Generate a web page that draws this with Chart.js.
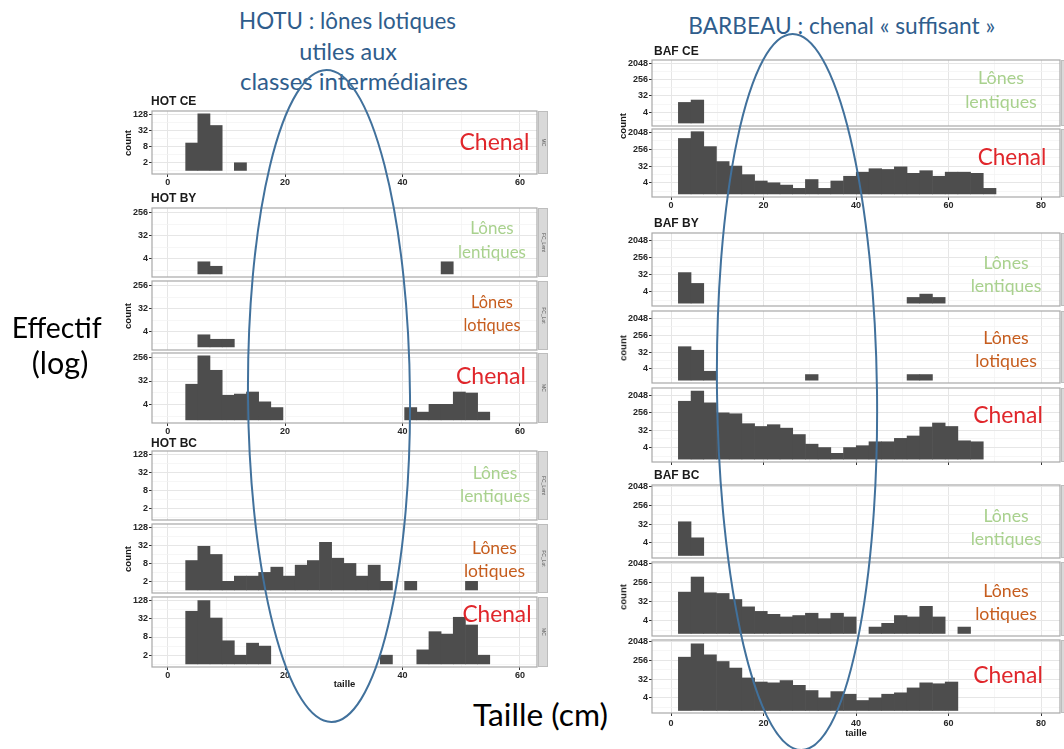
<!DOCTYPE html>
<html lang="fr">
<head>
<meta charset="utf-8">
<title>HOTU / BARBEAU - effectifs par classe de taille</title>
<script src="https://cdn.jsdelivr.net/npm/chart.js@4.4.1/dist/chart.umd.min.js"></script>
<style>
  html, body { margin: 0; padding: 0; background: #fff; }
  body { width: 1064px; height: 749px; position: relative; overflow: hidden; }
  .panel { position: absolute; }
  .txt { position: absolute; white-space: nowrap; text-align: center; }
  .gg { position: absolute; white-space: nowrap; font-family: "Liberation Sans", Arial, sans-serif; font-weight: bold; line-height: 1.2; color: #1a1a1a; }
  svg { position: absolute; left: 0; top: 0; pointer-events: none; }
</style>
</head>
<body>
<script>
const HOT_BINS = [4.10, 6.17, 8.25, 10.32, 12.39, 14.46, 16.53, 18.60, 20.68, 22.75, 24.82, 26.89, 28.96,
                  31.04, 33.11, 35.18, 37.25, 39.32, 41.40, 43.47, 45.54, 47.61, 49.68, 51.76, 53.83];
const BAF_BINS = [2.96, 5.71, 8.45, 11.20, 13.95, 16.70, 19.44, 22.19, 24.94, 27.68, 30.43, 33.18, 35.92,
                  38.67, 41.42, 44.17, 46.91, 49.66, 52.41, 55.15, 57.90, 60.65, 63.39, 66.14, 68.89];

const _ = null; // classe vide

// HOTU - effectifs par classe
const HOT_CE_MC   = [11, 137, 50, _, 2,   _, _, _, _, _,   _, _, _, _, _,   _, _, _, _, _,   _, _, _, _, _];
const HOT_BY_LENT = [_, 3, 2, _, _,       _, _, _, _, _,   _, _, _, _, _,   _, _, _, _, _,   _, 3, _, _, _];
const HOT_BY_LOT  = [_, 3, 2, 2, _,       _, _, _, _, _,   _, _, _, _, _,   _, _, _, _, _,   _, _, _, _, _];
const HOT_BY_MC   = [24, 300, 83, 9, 10,  12, 5, 3, _, _,  _, _, _, _, _,   _, _, _, 3, 2,   4, 4, 12, 11, 2];
const HOT_BC_LENT = [_, _, _, _, _,       _, _, _, _, _,   _, _, _, _, _,   _, _, _, _, _,   _, _, _, _, _];
const HOT_BC_LOT  = [10, 30, 16, 2, 3,    3, 4, 6, 3, 7,   10, 41, 12, 8, 3, 7, 2, _, 2, _,  _, _, _, 2, _];
const HOT_BC_MC   = [57, 128, 34, 6, 2,   5, 4, _, _, _,   _, _, _, _, _,   _, 2, _, _, 3,   12, 10, 36, 20, 2];

// BARBEAU - effectifs par classe
const BAF_CE_LENT = [14, 19, _, _, _,     _, _, _, _, _,   _, _, _, _, _,   _, _, _, _, _,   _, _, _, _, _];
const BAF_CE_MC   = [990, 2300, 360, 56, 32, 11, 5, 4, 3, 2, 6, 2, 5, 9, 15, 23, 21, 29, 13, 18, 9, 15, 15, 13, 2];
const BAF_BY_LENT = [41, 11, _, _, _,     _, _, _, _, _,   _, _, _, _, _,   _, _, _, 2, 3,   2, _, _, _, _];
const BAF_BY_LOT  = [62, 40, 3, _, _,     _, _, _, _, _,   2, _, _, _, _,   _, _, _, 2, 2,   _, _, _, _, _];
const BAF_BY_MC   = [1030, 3500, 850, 256, 230, 70, 50, 62, 41, 19, 6, 4, 2, 4, 5, 8, 8, 12, 16, 47, 76, 50, 9, 8, _];
const BAF_BC_LENT = [41, 7, _, _, _,      _, _, _, _, _,   _, _, _, _, _,   _, _, _, _, _,   _, _, _, _, _];
const BAF_BC_LOT  = [89, 460, 83, 77, 40, 18, 11, 8, 6, 7, 9, 5, 9, 6, _,   2, 3, 7, 6, 19,  6, _, 2, _, _];
const BAF_BC_MC   = [355, 1530, 460, 220, 107, 36, 23, 21, 27, 16, 9, 4, 8, 6, 3, 4, 6, 7, 12, 21, 19, 23, _, _, _];

// Graduations
const HOT_X_TICKS = [0, 10, 20, 30, 40, 50, 60];
const BAF_X_TICKS = [0, 10, 20, 30, 40, 50, 60, 70, 80];
const X_MAJOR = 20;
const Y_MAJ_A = [2, 8, 32, 128];
const Y_MIN_A = [1, 4, 16, 64];
const Y_MAJ_B = [4, 32, 256];
const Y_MIN_B = [1.41, 11.3, 90.5];
const Y_MAJ_C = [4, 32, 256, 2048];
const Y_MIN_C = [1.41, 11.3, 90.5, 724];

const GRID_MAJOR = '#E6E6E6';
const GRID_MINOR = '#F2F2F2';
const TICK_COL = '#333333';
const BAR_COL = '#4D4D4D';
const GG_FONT = '"Liberation Sans", Arial, sans-serif';
const SLIDE_FONT = 'Lato, "Open Sans", sans-serif';
const RED = '#E0262B';
const GREEN = '#A9D18E';
const ORANGE = '#C65D1E';
const BLUE = '#2F5D8C';

const PAD = 6;
const STRIP_W = 10;

const SPECIES = {
  HOT: { bins: HOT_BINS, xTicks: HOT_X_TICKS, xMin: -2.67, xMax: 62.91, plotLeft: 152, plotRight: 537, yW: 22, countX: 128.3 },
  BAF: { bins: BAF_BINS, xTicks: BAF_X_TICKS, xMin: -4.11, xMax: 84.1, plotLeft: 652, plotRight: 1060, yW: 26, countX: 622.5 },
};

const FACETS = [
  { title: 'HOT CE', sp: 'HOT', titleY: 101, countY: 142.5, yLo: -0.4, yHi: 7.45, majors: Y_MAJ_A, minors: Y_MIN_A,
    panels: [{ top: 111, bottom: 174, counts: HOT_CE_MC, strip: 'MC', x: 'labels' }] },
  { title: 'HOT BY', sp: 'HOT', titleY: 198.5, countY: 316, yLo: -0.4, yHi: 8.6, majors: Y_MAJ_B, minors: Y_MIN_B,
    panels: [
      { top: 208, bottom: 277, counts: HOT_BY_LENT, strip: 'FC_Lent' },
      { top: 281, bottom: 350, counts: HOT_BY_LOT, strip: 'FC_Lot' },
      { top: 353, bottom: 423, counts: HOT_BY_MC, strip: 'MC', x: 'labels' }] },
  { title: 'HOT BC', sp: 'HOT', titleY: 443, countY: 558.7, yLo: -0.3, yHi: 7.4, majors: Y_MAJ_A, minors: Y_MIN_A,
    panels: [
      { top: 451, bottom: 520, counts: HOT_BC_LENT, strip: 'FC_Lent' },
      { top: 524, bottom: 593, counts: HOT_BC_LOT, strip: 'FC_Lot' },
      { top: 597, bottom: 667, counts: HOT_BC_MC, strip: 'MC', x: 'title', xH: 23 }] },
  { title: 'BAF CE', sp: 'BAF', titleY: 51, countY: 126, yLo: -0.55, yHi: 11.65, majors: Y_MAJ_C, minors: Y_MIN_C,
    panels: [
      { top: 60, bottom: 126, counts: BAF_CE_LENT, strip: 'FC_Lent' },
      { top: 129, bottom: 197, counts: BAF_CE_MC, strip: 'MC', x: 'labels' }] },
  { title: 'BAF BY', sp: 'BAF', titleY: 223.5, countY: 348, yLo: -0.5, yHi: 12.3, majors: Y_MAJ_C, minors: Y_MIN_C,
    panels: [
      { top: 233, bottom: 306, counts: BAF_BY_LENT, strip: 'FC_Lent' },
      { top: 311, bottom: 383, counts: BAF_BY_LOT, strip: 'FC_Lot' },
      { top: 388, bottom: 462, counts: BAF_BY_MC, strip: 'MC', x: 'marks' }] },
  { title: 'BAF BC', sp: 'BAF', titleY: 475, countY: 597, yLo: -0.4, yHi: 11.2, majors: Y_MAJ_C, minors: Y_MIN_C,
    panels: [
      { top: 485, bottom: 558, counts: BAF_BC_LENT, strip: 'FC_Lent' },
      { top: 562, bottom: 636, counts: BAF_BC_LOT, strip: 'FC_Lot' },
      { top: 640, bottom: 713, counts: BAF_BC_MC, strip: 'MC', x: 'title', xH: 26, xPad: 2 }] },
];

// Textes de la diapo : [lignes, cx, cy, largeur visée, couleur, interligne, ligne de référence]
const SLIDE_TEXTS = [
  [['HOTU : lônes lotiques'], 347.5, 21.5, 217, BLUE],
  [['utiles aux'], 348, 51.5, 97.7, BLUE],
  [['classes intermédiaires'], 354, 81.5, 228, BLUE],
  [['BARBEAU : chenal « suffisant »'], 841.7, 25.3, 307, BLUE],
  [['Effectif'], 56.7, 327, 90, '#000'],
  [['(log)'], 60, 363.5, 56.6, '#000'],
  [['Taille (cm)'], 540.5, 714, 135, '#000'],
  [['Chenal'], 494.5, 141.5, 70, RED],
  [['Lônes', 'lentiques'], 492, 239.8, 68, GREEN, 23.7, 1],
  [['Lônes', 'lotiques'], 492, 313.7, 57, ORANGE, 22.5, 1],
  [['Chenal'], 491, 376, 70, RED],
  [['Lônes', 'lentiques'], 495, 484.3, 70, GREEN, 23.3, 1],
  [['Lônes', 'lotiques'], 494.5, 559, 61, ORANGE, 23, 1],
  [['Chenal'], 497, 614, 69, RED],
  [['Lônes', 'lentiques'], 1001, 89.8, 71.7, GREEN, 23.7, 1],
  [['Chenal'], 1012, 157, 68.7, RED],
  [['Lônes', 'lentiques'], 1006, 274, 70.7, GREEN, 23.3, 1],
  [['Lônes', 'lotiques'], 1006, 349, 61.7, ORANGE, 23, 1],
  [['Chenal'], 1008, 415, 69.7, RED],
  [['Lônes', 'lentiques'], 1006, 527, 70.7, GREEN, 23.5, 1],
  [['Lônes', 'lotiques'], 1006, 602, 61.7, ORANGE, 23.5, 1],
  [['Chenal'], 1008, 675, 69.7, RED],
];

// Cadre gris du panneau + bandeau de facette à droite
const frame = {
  id: 'frame',
  afterDraw(chart, args, o) {
    const { ctx, chartArea: a } = chart;
    ctx.save();
    ctx.strokeStyle = '#A8A8A8';
    ctx.lineWidth = 1.2;
    ctx.strokeRect(a.left, a.top, a.right - a.left, a.bottom - a.top);
    const sx = a.right + 1;
    ctx.fillStyle = '#D9D9D9';
    ctx.fillRect(sx, a.top, STRIP_W, a.bottom - a.top);
    ctx.strokeStyle = '#BDBDBD';
    ctx.lineWidth = 1;
    ctx.strokeRect(sx + 0.5, a.top + 0.5, STRIP_W - 1, a.bottom - a.top - 1);
    ctx.translate(sx + STRIP_W / 2, (a.top + a.bottom) / 2);
    ctx.rotate(Math.PI / 2);
    ctx.fillStyle = '#555';
    ctx.font = '5px ' + GG_FONT;
    ctx.textAlign = 'center';
    ctx.textBaseline = 'middle';
    ctx.fillText(o.text, 0, 0);
    ctx.restore();
  }
};

function drawPanel(facet, p) {
  const S = SPECIES[facet.sp];
  const mode = p.x || 'none';
  const xH = mode === 'none' ? 0 : mode === 'marks' ? 4 : mode === 'labels' ? 14 : p.xH;
  const bottomPad = xH ? 0 : 2;
  const stripSpace = STRIP_W + 2;

  const box = document.createElement('div');
  box.className = 'panel';
  box.style.left = (S.plotLeft - S.yW) + 'px';
  box.style.top = (p.top - PAD) + 'px';
  box.style.width = (S.plotRight - S.plotLeft + S.yW + stripSpace) + 'px';
  box.style.height = (p.bottom - p.top + PAD + xH + bottomPad) + 'px';
  const canvas = document.createElement('canvas');
  box.appendChild(canvas);
  document.body.appendChild(box);

  const isXMaj = c => c.tick && c.tick.value % X_MAJOR === 0;
  const isYMaj = c => c.tick && facet.majors.includes(c.tick.value);
  const tickFont = { family: GG_FONT, size: 9, weight: 'bold' };

  new Chart(canvas, {
    type: 'bar',
    data: {
      datasets: [{
        data: S.bins.map((x, i) => ({ x, y: p.counts[i] })),
        backgroundColor: BAR_COL,
        borderWidth: 0,
        base: 1,
        barPercentage: 1,
        categoryPercentage: 1,
      }],
    },
    options: {
      responsive: true,
      maintainAspectRatio: false,
      animation: false,
      layout: { padding: { top: PAD, right: stripSpace, bottom: bottomPad, left: 0 } },
      plugins: {
        legend: { display: false },
        tooltip: { enabled: false },
        frame: { text: p.strip },
      },
      scales: {
        x: {
          type: 'linear',
          bounds: 'data',
          min: S.xMin,
          max: S.xMax,
          offset: false,
          afterBuildTicks: s => { s.ticks = S.xTicks.map(v => ({ value: v })); },
          afterFit: s => { s.height = xH; s.paddingLeft = 0; s.paddingRight = 0; },
          border: { display: false },
          grid: {
            offset: false,
            drawTicks: mode !== 'none',
            tickLength: 3,
            color: c => isXMaj(c) ? GRID_MAJOR : GRID_MINOR,
            lineWidth: c => isXMaj(c) ? 1 : 0.7,
            tickColor: c => isXMaj(c) ? TICK_COL : 'rgba(0,0,0,0)',
            tickWidth: 1,
          },
          ticks: {
            display: mode === 'labels' || mode === 'title',
            autoSkip: false,
            maxRotation: 0,
            padding: p.xPad || 0,
            color: '#262626',
            font: tickFont,
            callback: v => v % X_MAJOR === 0 ? String(v) : '',
          },
          title: {
            display: mode === 'title',
            text: 'taille',
            color: '#1a1a1a',
            padding: 0,
            font: { family: GG_FONT, size: 9.5, weight: 'bold' },
          },
        },
        y: {
          type: 'logarithmic',
          bounds: 'data',
          beginAtZero: false,
          min: Math.pow(2, facet.yLo),
          max: Math.pow(2, facet.yHi),
          afterBuildTicks: s => {
            s.ticks = facet.majors.concat(facet.minors).sort((a, b) => a - b).map(v => ({ value: v }));
          },
          afterFit: s => { s.width = S.yW; s.paddingTop = 0; s.paddingBottom = 0; },
          border: { display: false },
          grid: {
            tickLength: 3,
            color: c => isYMaj(c) ? GRID_MAJOR : GRID_MINOR,
            lineWidth: c => isYMaj(c) ? 1 : 0.7,
            tickColor: c => isYMaj(c) ? TICK_COL : 'rgba(0,0,0,0)',
            tickWidth: 1,
          },
          ticks: {
            autoSkip: false,
            padding: 1,
            color: '#262626',
            font: tickFont,
            callback: v => facet.majors.includes(v) ? String(v) : '',
          },
        },
      },
    },
    plugins: [frame],
  });
}

const mctx = document.createElement('canvas').getContext('2d');
function textWidth(str, size, family) {
  mctx.font = size + 'px ' + family;
  return mctx.measureText(str).width;
}

function slideText([lines, cx, cy, fitW, color, lh, ref]) {
  const size = 100 * fitW / textWidth(lines[ref || 0], 100, SLIDE_FONT);
  const lineH = lh || size * 1.2;
  const w = Math.max(...lines.map(l => textWidth(l, size, SLIDE_FONT))) + 6;
  const el = document.createElement('div');
  el.className = 'txt';
  el.style.font = size.toFixed(2) + 'px ' + SLIDE_FONT;
  el.style.lineHeight = lineH + 'px';
  el.style.color = color;
  el.style.width = w + 'px';
  el.style.left = (cx - w / 2) + 'px';
  el.style.top = (cy - lines.length * lineH / 2) + 'px';
  el.innerHTML = lines.join('<br>');
  document.body.appendChild(el);
}

function ggText(str, x, cy, size, rotate) {
  const el = document.createElement('div');
  el.className = 'gg';
  el.style.fontSize = size + 'px';
  el.textContent = str;
  if (rotate) {
    el.style.left = x + 'px';
    el.style.top = cy + 'px';
    el.style.transform = 'translate(-50%, -50%) rotate(-90deg)';
  } else {
    el.style.left = x + 'px';
    el.style.top = (cy - 0.588 * size) + 'px';
  }
  document.body.appendChild(el);
}

FACETS.forEach(f => {
  const S = SPECIES[f.sp];
  f.panels.forEach(p => drawPanel(f, p));
  ggText(f.title, f.sp === 'HOT' ? 151 : 654, f.titleY, 12, false);
  ggText('count', S.countX, f.countY, 9.5, true);
});

SLIDE_TEXTS.forEach(slideText);

// Ellipses d'annotation
const svgNS = 'http://www.w3.org/2000/svg';
const svg = document.createElementNS(svgNS, 'svg');
svg.setAttribute('width', '1064');
svg.setAttribute('height', '749');
[[329, 396, 81, 326, -0.45], [797, 392, 80, 358, -0.72]].forEach(([cx, cy, rx, ry, rot]) => {
  const e = document.createElementNS(svgNS, 'ellipse');
  e.setAttribute('cx', cx);
  e.setAttribute('cy', cy);
  e.setAttribute('rx', rx);
  e.setAttribute('ry', ry);
  e.setAttribute('fill', 'none');
  e.setAttribute('stroke', '#41719C');
  e.setAttribute('stroke-width', '2');
  e.setAttribute('transform', `rotate(${rot} ${cx} ${cy})`);
  svg.appendChild(e);
});
document.body.appendChild(svg);
</script>
</body>
</html>
